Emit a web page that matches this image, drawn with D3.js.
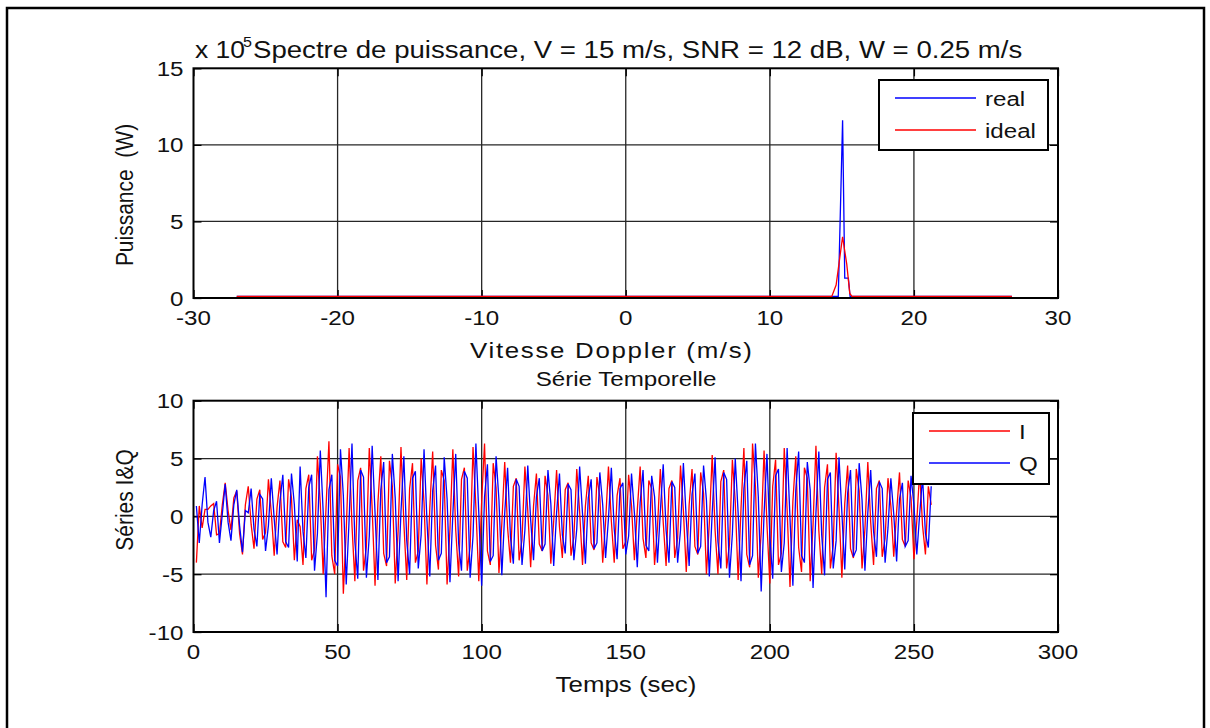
<!DOCTYPE html>
<html>
<head>
<meta charset="utf-8">
<script src="https://cdn.jsdelivr.net/npm/d3@7"></script>
<style>
  body { margin: 0; background: #fff; }
  svg text { font-family: "Liberation Sans", Arial, sans-serif; fill: #111; white-space: pre; }
</style>
</head>
<body>
<svg id="chart" width="1210" height="728"></svg>
<script>
// spectrum, power in units of 1e5 W
const realV = [-27.0, 14.75, 15.05, 15.2, 15.45, 15.57, 26.8];
const realP = [0.1, 0.1, 11.6, 1.3, 1.3, 0.1, 0.1];
const idealV = [-27.0, 14.3, 14.6, 15.05, 15.34, 15.55, 15.7, 26.8];
const idealP = [0.1, 0.1, 0.85, 4.0, 2.2, 0.3, 0.1, 0.1];

// time series, one sample per second
const seriesI = [
  -4.0, 0.9, -1.0, 0.6, 0.6, 0.9, 1.1, -1.6, -1.5, 1.0, 2.9, 0.5, -1.2, 1.6, 2.2, -1.5, -3.3, 1.0,
  2.6, -0.7, -2.8, 1.5, 2.3, -2.0, -1.4, 3.2, 0.3, -3.4, 0.8, 3.1, -2.2, -2.7, 3.2, 1.6, -3.8, -0.3,
  -0.9, -4.2, 2.4, 3.6, -3.8, -2.9, 5.2, 1.1, -5.0, 0.8, 6.5, -3.4, -5.0, 4.5, 3.4, -6.7, -1.2, 5.9,
  -0.8, -5.6, 3.1, 4.2, -4.7, -2.6, 5.9, 0.7, -6.0, 1.2, 5.2, -3.2, -4.3, 4.8, 2.6, -5.8, -1.3, 6.0,
  -0.6, -5.5, 2.4, 4.6, -4.0, -3.0, 5.0, 1.2, -5.9, 0.7, 5.6, -2.5, -4.6, 4.0, 3.1, -5.9, -1.1, 5.8,
  -1.2, -5.2, 3.2, 4.2, -4.7, -2.6, 6.0, 0.8, -5.6, 1.3, 6.3, -3.0, -4.2, 4.6, 2.5, -4.9, -0.6, 4.7,
  -1.0, -4.0, 2.6, 3.3, -3.8, -2.0, 4.3, 0.5, -4.4, 0.9, 3.7, -2.4, -3.0, 3.5, 1.8, -4.1, -0.4, 4.0,
  -0.9, -3.6, 2.3, 2.9, -3.4, -1.8, 4.1, 0.4, -4.2, 0.9, 3.5, -2.3, -2.9, 3.4, 1.7, -4.0, -0.5, 4.3,
  -0.4, -4.0, 1.8, 3.3, -2.8, -2.2, 3.6, 0.9, -3.8, 0.5, 4.3, -1.9, -3.6, 3.1, 2.4, -4.2, -1.0, 4.1,
  -0.5, -4.3, 2.4, 3.1, -3.6, -1.9, 4.4, 0.5, -4.8, 1.0, 4.1, -2.6, -3.3, 3.8, 2.0, -5.0, -0.6, 5.3,
  -1.2, -5.0, 3.0, 4.0, -4.5, -2.4, 4.9, 1.3, -5.5, 0.7, 5.9, -3.3, -4.4, 6.3, 2.6, -5.3, -1.4, 5.7,
  -0.7, -5.8, 2.6, 4.9, -4.2, -3.2, 5.9, 0.6, -6.1, 1.3, 5.2, -2.7, -4.8, 4.2, 3.3, -5.6, -0.7, 6.1,
  -1.2, -5.0, 2.5, 4.5, -4.5, -2.5, 5.5, 0.7, -5.3, 1.1, 4.4, -2.8, -3.6, 4.1, 2.2, -4.5, -1.1, 4.7,
  -0.5, -4.2, 2.4, 3.1, -3.5, -1.9, 3.3, 0.9, -3.5, 0.4, 3.8, -2.0, -2.6, 3.1, 1.6, -3.7, -0.4, 3.9,
  -0.8, -3.3, 2.6, 1.0
];
const seriesQ = [
  0.9, -2.3, 1.0, 3.4, -0.5, -1.8, 0.5, 1.3, -2.3, 0.2, 2.8, -0.5, -2.1, 1.0, 2.3, -0.8, -3.1, 0.5,
  0.3, 2.4, -1.1, -2.6, 1.9, 1.5, -3.0, -0.8, 3.3, -0.2, -3.3, 1.3, 3.6, -2.2, -2.7, 3.7, 1.0, -3.9,
  4.3, -1.3, -3.6, 2.5, 3.6, -4.7, -1.5, 5.7, 0.4, -7.0, 2.3, 3.6, -3.8, -4.3, 5.8, 1.8, -5.9, -0.3,
  6.3, -2.2, -5.4, 4.0, 3.4, -5.3, -1.7, 6.1, 0.3, -5.5, 2.3, 4.7, -4.0, -3.5, 5.4, 1.6, -5.6, 0.4,
  5.2, -2.1, -5.0, 3.3, 3.9, -4.5, -1.6, 5.8, -0.3, -5.2, 2.2, 4.4, -3.8, -3.2, 5.1, 1.5, -5.7, 0.2,
  5.4, -2.3, -4.7, 3.9, 3.3, -5.3, -1.7, 6.3, 0.3, -6.0, 1.7, 4.5, -3.9, -3.4, 5.2, 1.4, -5.1, 0.3,
  4.2, -1.8, -4.1, 3.2, 2.6, -4.2, -1.2, 4.4, -0.3, -3.8, 1.7, 3.3, -3.0, -2.4, 4.0, 1.1, -4.3, 0.3,
  3.7, -1.6, -3.2, 2.8, 2.3, -3.8, -1.1, 4.3, 0.2, -4.1, 1.6, 3.2, -2.8, -2.3, 3.8, 1.0, -3.6, -0.2,
  4.2, -1.1, -3.7, 2.4, 2.9, -3.3, -1.7, 3.7, 0.3, -4.4, 1.2, 4.0, -2.5, -3.0, 3.5, 1.7, -4.0, 0.4,
  4.5, -1.2, -4.0, 3.0, 2.5, -4.0, -1.2, 4.6, -0.2, -4.3, 1.9, 3.7, -3.2, -2.6, 4.4, 1.4, -5.2, 0.3,
  5.1, -2.2, -4.5, 3.8, 3.2, -5.3, -1.5, 5.0, 0.3, -5.6, 2.4, 4.8, -4.2, -3.4, 6.3, 1.7, -6.5, 0.2,
  5.4, -1.7, -5.4, 3.5, 4.1, -4.8, -2.3, 5.9, -0.2, -6.0, 2.2, 5.6, -3.4, -4.0, 4.7, 2.3, -6.2, 0.3,
  5.6, -1.6, -5.1, 3.2, 3.8, -4.5, -2.1, 5.1, 0.3, -4.6, 2.0, 4.0, -3.5, -2.9, 4.6, 1.4, -4.7, 0.3,
  4.0, -1.3, -3.5, 3.0, 2.4, -4.0, -1.0, 3.3, 0.2, -3.9, 1.5, 2.9, -2.6, -2.1, 3.5, 1.0, -3.3, 0.2,
  3.4, -1.5, -2.7, 2.6
];

const specXTicks = [-30, -20, -10, 0, 10, 20, 30];
const specYTicks = [0, 5, 10, 15];
const timeXTicks = [0, 50, 100, 150, 200, 250, 300];
const timeYTicks = [-10, -5, 0, 5, 10];

const FONT = 21;
const SX = 1.15; // the exported figure is stretched horizontally
const BLUE = '#0000ff', RED = '#ff0000';

const svg = d3.select('#chart');

svg.append('rect')
  .attr('x', 7).attr('y', 8)
  .attr('width', 1197).attr('height', 740)
  .attr('fill', 'none').attr('stroke', '#000').attr('stroke-width', 2.5);

function txt(x, y, s, opts = {}) {
  const size = opts.size || FONT;
  let tr = `translate(${x},${y}) scale(${SX},1)`;
  if (opts.rotate) tr += ` rotate(${opts.rotate})`;
  const t = svg.append('g').attr('transform', tr)
    .append('text')
    .attr('text-anchor', opts.anchor || 'middle')
    .style('font-size', size + 'px')
    .text(s);
  if (opts.len) t.attr('textLength', opts.len / SX).attr('lengthAdjust', 'spacing');
  return t;
}

function panel(b, xDomain, yDomain, xTicks, yTicks) {
  const x = d3.scaleLinear().domain(xDomain).range([b.left, b.right]);
  const y = d3.scaleLinear().domain(yDomain).range([b.bottom, b.top]);
  const g = svg.append('g');

  // grid
  g.selectAll('.gx').data(xTicks.slice(1, -1)).join('line')
    .attr('x1', d => x(d)).attr('x2', d => x(d))
    .attr('y1', b.top).attr('y2', b.bottom)
    .attr('stroke', '#262626').attr('stroke-width', 1.3);
  g.selectAll('.gy').data(yTicks.slice(1, -1)).join('line')
    .attr('x1', b.left).attr('x2', b.right)
    .attr('y1', d => y(d)).attr('y2', d => y(d))
    .attr('stroke', '#262626').attr('stroke-width', 1.3);

  // inward ticks on all four sides
  const tk = 8;
  const addAxis = (axis, tr) => {
    const a = g.append('g').attr('transform', tr).call(axis);
    a.select('.domain').remove();
    a.selectAll('text').remove();
    a.selectAll('line').attr('stroke', '#000').attr('stroke-width', 1.3);
  };
  addAxis(d3.axisBottom(x).tickValues(xTicks).tickSize(-tk), `translate(0,${b.bottom})`);
  addAxis(d3.axisTop(x).tickValues(xTicks).tickSize(-tk), `translate(0,${b.top})`);
  addAxis(d3.axisLeft(y).tickValues(yTicks).tickSize(-tk), `translate(${b.left},0)`);
  addAxis(d3.axisRight(y).tickValues(yTicks).tickSize(-tk), `translate(${b.right},0)`);

  xTicks.forEach(v => txt(x(v), b.bottom + 27, String(v)));
  yTicks.forEach(v => txt(b.left - 10, y(v) + 7.5, String(v), { anchor: 'end' }));

  return { x, y, g };
}

function frame(g, b) {
  g.append('rect')
    .attr('x', b.left).attr('y', b.top)
    .attr('width', b.right - b.left).attr('height', b.bottom - b.top)
    .attr('fill', 'none').attr('stroke', '#000').attr('stroke-width', 2);
}

function legend(b, items) {
  svg.append('rect')
    .attr('x', b.x).attr('y', b.y).attr('width', b.w).attr('height', b.h)
    .attr('fill', '#fff').attr('stroke', '#000').attr('stroke-width', 2);
  items.forEach((it, i) => {
    const yy = b.y + 18 + i * 32;
    svg.append('line')
      .attr('x1', b.x + 16).attr('x2', b.x + 97)
      .attr('y1', yy).attr('y2', yy)
      .attr('stroke', it.color).attr('stroke-width', 1.3);
    txt(b.x + 106, yy + 7.5, it.name, { anchor: 'start' });
  });
}

// ---- top: power spectrum
const specBox = { left: 193.5, right: 1058, top: 68.3, bottom: 298 };
const spec = panel(specBox, [-30, 30], [0, 15], specXTicks, specYTicks);
const specLine = d3.line().x(d => spec.x(d[0])).y(d => spec.y(d[1]));
spec.g.append('path')
  .attr('d', specLine(d3.zip(realV, realP)))
  .attr('fill', 'none').attr('stroke', BLUE).attr('stroke-width', 1.3);
spec.g.append('path')
  .attr('d', specLine(d3.zip(idealV, idealP)))
  .attr('fill', 'none').attr('stroke', RED).attr('stroke-width', 1.3);
frame(spec.g, specBox);

txt(195, 57.5, 'x 10', { anchor: 'start', size: 23 });
txt(243, 47, '5', { anchor: 'start', size: 14 });
txt(253, 57.5, 'Spectre de puissance, V = 15 m/s, SNR = 12 dB, W = 0.25 m/s', { anchor: 'start', size: 24 });
txt(470, 358, 'Vitesse Doppler (m/s)', { anchor: 'start', size: 22.5, len: 282 });
txt(133, 195, 'Puissance  (W)', { rotate: -90 });

legend({ x: 879, y: 80, w: 169, h: 70 }, [
  { name: 'real', color: BLUE },
  { name: 'ideal', color: RED }
]);

// ---- bottom: I & Q time series
const timeBox = { left: 193.5, right: 1058, top: 400.7, bottom: 632 };
const ts = panel(timeBox, [0, 300], [-10, 10], timeXTicks, timeYTicks);
const tsLine = d3.line().x((d, i) => ts.x(i + 1)).y(d => ts.y(d));
ts.g.append('path')
  .attr('d', tsLine(seriesI))
  .attr('fill', 'none').attr('stroke', RED).attr('stroke-width', 1.3);
ts.g.append('path')
  .attr('d', tsLine(seriesQ))
  .attr('fill', 'none').attr('stroke', BLUE).attr('stroke-width', 1.3);
frame(ts.g, timeBox);

txt(626, 386, 'Série Temporelle');
txt(626, 692, 'Temps (sec)', { size: 22.5 });
txt(133, 500, 'Séries I&Q', { rotate: -90 });

legend({ x: 913, y: 413, w: 136, h: 71 }, [
  { name: 'I', color: RED },
  { name: 'Q', color: BLUE }
]);
</script>
</body>
</html>
